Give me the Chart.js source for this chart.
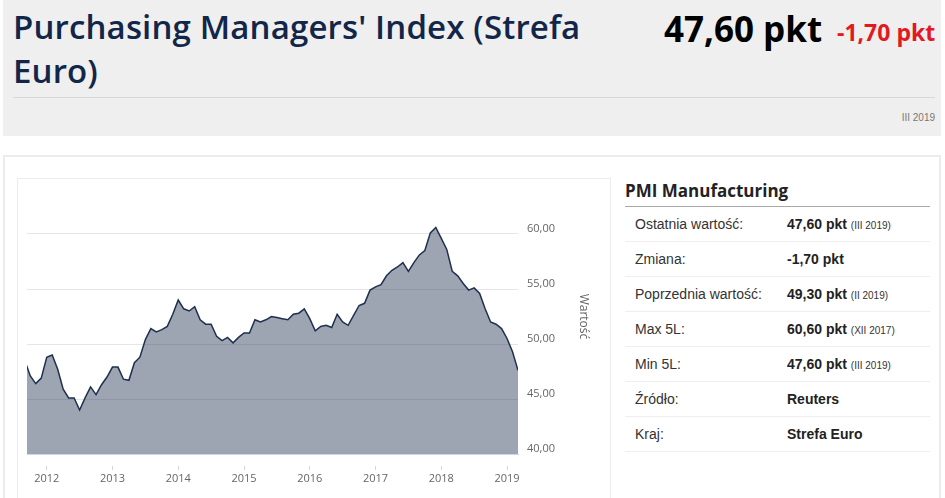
<!DOCTYPE html>
<html>
<head>
<meta charset="utf-8">
<script src="https://cdn.jsdelivr.net/npm/chart.js@4.4.1/dist/chart.umd.min.js"></script>
<style>
  body { margin: 0; width: 945px; height: 498px; overflow: hidden; background: #fff; position: relative; font-family: "Liberation Sans", Arial, sans-serif; }
  #head { position: absolute; left: 3px; top: 0; width: 938px; height: 136px; background: #efefef; }
  #title { position: absolute; left: 10px; top: 5px; width: 610px; font: 600 33px/44px "Open Sans", sans-serif; color: #12264a; letter-spacing: 0.15px; }
  #last { position: absolute; left: 661px; top: 6px; font: bold 35px/46px "Open Sans", sans-serif; color: #000; }
  #chg { position: absolute; left: 834px; top: 16px; font: bold 23px/32px "Open Sans", sans-serif; color: #e3191f; }
  #hr { position: absolute; left: 10px; top: 97px; width: 922px; height: 1px; background: #d8d8d8; }
  #date { position: absolute; right: 6px; top: 112px; font-size: 10px; color: #777; }
  #panel { position: absolute; left: 3px; top: 155px; width: 934px; height: 360px; border: 2px solid #ebebeb; }
  #box { position: absolute; left: 17px; top: 178px; width: 592px; height: 330px; border: 1px solid #ececec; }
  #wrap { position: absolute; left: 17px; top: 178px; width: 593px; height: 320px; }
  #side { position: absolute; left: 625px; top: 176px; width: 305px; }
  #side h3 { margin: 0; height: 30px; font: bold 17px/30px "Open Sans", sans-serif; color: #222; border-bottom: 1px solid #a8a8a8; }
  .row { height: 34px; border-bottom: 1px solid #eeeeee; font-size: 14px; line-height: 34px; color: #333; position: relative; }
  .row span.l { position: absolute; left: 10px; }
  .row span.v { position: absolute; left: 162px; font-weight: bold; color: #222; }
  .row small { font-size: 10px; font-weight: normal; color: #333; }
</style>
</head>
<body>
<div id="head">
  <div id="title">Purchasing Managers' Index (Strefa Euro)</div>
  <div id="last">47,60 pkt</div>
  <div id="chg">-1,70 pkt</div>
  <div id="hr"></div>
  <div id="date">III 2019</div>
</div>
<div id="panel"></div>
<div id="box"></div>
<div id="wrap"><canvas id="myChart" width="593" height="320"></canvas></div>
<div id="side">
  <h3>PMI Manufacturing</h3>
  <div id="rows"></div>
</div>
<script>
// PMI readings, month by month, IX 2011 .. III 2019
var pmi = [
  48.5, 47.1, 46.4, 46.9,
  48.8, 49.0, 47.7, 45.9, 45.1, 45.1, 44.0, 45.1, 46.1, 45.4, 46.3, 47.0,
  47.9, 47.9, 46.8, 46.7, 48.3, 48.8, 50.4, 51.4, 51.1, 51.3, 51.6, 52.7,
  54.0, 53.2, 53.0, 53.4, 52.2, 51.8, 51.8, 50.7, 50.3, 50.6, 50.1, 50.6,
  51.0, 51.0, 52.2, 52.0, 52.2, 52.5, 52.4, 52.3, 52.2, 52.7, 52.8, 53.2,
  52.3, 51.2, 51.6, 51.7, 51.5, 52.7, 52.0, 51.7, 52.6, 53.5, 53.7, 54.9,
  55.2, 55.4, 56.2, 56.7, 57.0, 57.4, 56.6, 57.4, 58.1, 58.5, 60.1, 60.6,
  59.6, 58.6, 56.6, 56.2, 55.5, 54.9, 55.1, 54.6, 53.2, 52.0, 51.8, 51.4,
  50.5, 49.3, 47.6
];
var firstMonth = -4;   // IX 2011, counted from I 2012
var years = ['2012', '2013', '2014', '2015', '2016', '2017', '2018', '2019'];

var statLabels = ['Ostatnia wartość:', 'Zmiana:', 'Poprzednia wartość:', 'Max 5L:', 'Min 5L:', 'Źródło:', 'Kraj:'];
var statValues = ['47,60 pkt', '-1,70 pkt', '49,30 pkt', '60,60 pkt', '47,60 pkt', 'Reuters', 'Strefa Euro'];
var statDates = ['III 2019', '', 'II 2019', 'XII 2017', 'III 2019', '', ''];

var rows = document.getElementById('rows');
for (var r = 0; r < statLabels.length; r++) {
  var d = document.createElement('div');
  d.className = 'row';
  var html = '<span class="l">' + statLabels[r] + '</span><span class="v">' + statValues[r];
  if (statDates[r]) html += ' <small>(' + statDates[r] + ')</small>';
  d.innerHTML = html + '</span>';
  rows.appendChild(d);
}

var points = pmi.map(function (v, i) { return { x: firstMonth + i, y: v }; });

var ctx = document.getElementById('myChart').getContext('2d');
var mychart = new Chart(ctx, {
  type: 'line',
  data: {
    datasets: [{
      data: points,
      label: 'PMI',
      borderColor: '#1f2f4d',
      borderWidth: 1.5,
      backgroundColor: 'rgba(32,50,80,0.44)',
      fill: 'start',
      pointRadius: 0,
      tension: 0
    }]
  },
  options: {
    responsive: false,
    animation: false,
    devicePixelRatio: 1,
    layout: { padding: { top: 1, right: 15, bottom: 0, left: 10 } },
    plugins: { legend: { display: false }, tooltip: { enabled: false } },
    scales: {
      x: {
        type: 'linear',
        min: -3.6,
        max: 86,
        afterBuildTicks: function (s) {
          s.ticks = years.map(function (y, i) { return { value: i * 12 }; });
        },
        afterFit: function (s) {
          s.height = 44;
          s.paddingLeft = 0;
          s.paddingRight = 0;
        },
        ticks: {
          autoSkip: false,
          maxRotation: 0,
          padding: 2,
          color: '#666',
          font: { family: 'Open Sans', size: 11 },
          callback: function (v) { return years[Math.round(v / 12)]; }
        },
        grid: {
          drawOnChartArea: false,
          tickLength: 16,
          tickColor: '#ccd6eb',
          tickBorderDash: [5, 11],
          tickBorderDashOffset: 5
        },
        border: { color: '#ccd6eb' }
      },
      y: {
        position: 'right',
        min: 40,
        max: 65,
        afterBuildTicks: function (s) {
          s.ticks = s.ticks.filter(function (t) { return t.value <= 60; });
        },
        afterFit: function (s) {
          s.width = 77;
          s.paddingTop = 0;
          s.paddingBottom = 0;
        },
        ticks: {
          stepSize: 5,
          padding: 9,
          labelOffset: -5,
          color: '#666',
          font: { family: 'Open Sans', size: 11 },
          callback: function (v) { return v.toFixed(2).replace('.', ','); }
        },
        grid: { color: '#e6e6e6', drawTicks: false },
        border: { display: false },
        title: {
          display: true,
          text: 'Wartość',
          color: '#666',
          font: { family: 'Open Sans', size: 12 }
        }
      }
    }
  }
});
</script>
</body>
</html>
